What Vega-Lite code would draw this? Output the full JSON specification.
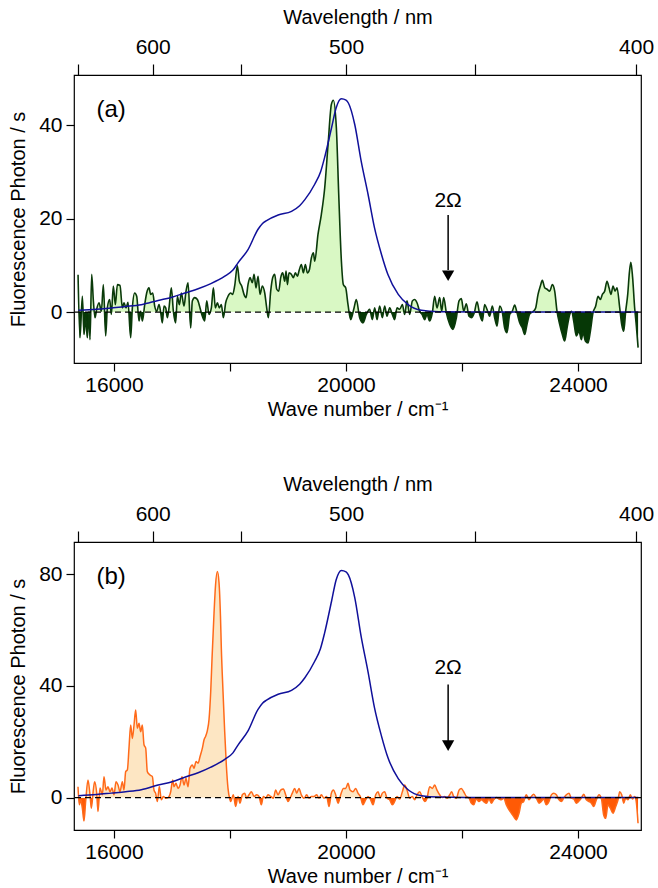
{
"$schema": "https://vega.github.io/schema/vega-lite/v6.json",
"padding": {"left": 8, "top": 6, "right": 2, "bottom": 4},
"spacing": 53,
"datasets": {
"blueA": [
{"wn":15385,"v":0.4},{"wn":15700,"v":0.6},{"wn":15950,"v":0.9},{"wn":16200,"v":1.2},{"wn":16470,"v":1.6},{"wn":16760,"v":2.5},{"wn":17000,"v":3.2},{"wn":17220,"v":4.1},{"wn":17450,"v":5.0},{"wn":17670,"v":6.1},{"wn":17910,"v":7.7},{"wn":18050,"v":9.0},{"wn":18140,"v":10.6},{"wn":18310,"v":13.4},{"wn":18480,"v":17.7},{"wn":18560,"v":19.0},{"wn":18630,"v":19.6},{"wn":18830,"v":20.8},{"wn":19060,"v":21.6},{"wn":19200,"v":22.8},{"wn":19290,"v":24.1},{"wn":19460,"v":27.4},{"wn":19560,"v":30.0},{"wn":19630,"v":33.1},{"wn":19750,"v":39.5},{"wn":19830,"v":43.8},{"wn":19920,"v":45.7},{"wn":20000,"v":45.4},{"wn":20040,"v":44.8},{"wn":20150,"v":40.2},{"wn":20260,"v":32.4},{"wn":20380,"v":25.2},{"wn":20490,"v":18.1},{"wn":20610,"v":12.4},{"wn":20720,"v":8.1},{"wn":20900,"v":3.8},{"wn":21070,"v":1.6},{"wn":21300,"v":0.4},{"wn":21600,"v":0.1},{"wn":22500,"v":0.0},{"wn":25040,"v":0.0}
],
"blueB": [
{"wn":15385,"v":0.7},{"wn":15700,"v":1.1},{"wn":15950,"v":1.6},{"wn":16200,"v":2.1},{"wn":16470,"v":2.8},{"wn":16760,"v":4.5},{"wn":17000,"v":5.7},{"wn":17220,"v":7.3},{"wn":17450,"v":8.9},{"wn":17670,"v":10.9},{"wn":17910,"v":13.7},{"wn":18050,"v":16.0},{"wn":18140,"v":18.9},{"wn":18310,"v":23.9},{"wn":18480,"v":31.5},{"wn":18560,"v":33.8},{"wn":18630,"v":34.9},{"wn":18830,"v":37.0},{"wn":19060,"v":38.4},{"wn":19200,"v":40.6},{"wn":19290,"v":42.9},{"wn":19460,"v":48.8},{"wn":19560,"v":53.4},{"wn":19630,"v":58.9},{"wn":19750,"v":70.3},{"wn":19830,"v":78.0},{"wn":19920,"v":81.3},{"wn":20000,"v":80.8},{"wn":20040,"v":79.7},{"wn":20150,"v":71.6},{"wn":20260,"v":57.7},{"wn":20380,"v":44.9},{"wn":20490,"v":32.2},{"wn":20610,"v":22.1},{"wn":20720,"v":14.4},{"wn":20900,"v":6.8},{"wn":21070,"v":2.8},{"wn":21300,"v":0.7},{"wn":21600,"v":0.2},{"wn":22500,"v":0.0},{"wn":25040,"v":0.0}
],
"greenA": [
{"wn":15380,"v":8.0},{"wn":15413,"v":-5.5},{"wn":15454,"v":3.4},{"wn":15483,"v":-4.8},{"wn":15511,"v":-1.2},{"wn":15540,"v":-5.5},{"wn":15569,"v":0.2},{"wn":15586,"v":-5.9},{"wn":15615,"v":8.1},{"wn":15644,"v":2.4},{"wn":15672,"v":-1.2},{"wn":15701,"v":0.6},{"wn":15741,"v":2.0},{"wn":15782,"v":0.2},{"wn":15816,"v":5.9},{"wn":15856,"v":-5.1},{"wn":15885,"v":0.9},{"wn":15925,"v":2.7},{"wn":15954,"v":-0.5},{"wn":15988,"v":5.6},{"wn":16023,"v":1.6},{"wn":16058,"v":5.9},{"wn":16103,"v":5.7},{"wn":16144,"v":0.9},{"wn":16172,"v":2.0},{"wn":16207,"v":0.9},{"wn":16241,"v":2.1},{"wn":16287,"v":-5.5},{"wn":16316,"v":0.9},{"wn":16356,"v":4.1},{"wn":16391,"v":3.4},{"wn":16431,"v":-1.9},{"wn":16460,"v":0.2},{"wn":16489,"v":-1.9},{"wn":16529,"v":1.6},{"wn":16563,"v":4.1},{"wn":16603,"v":5.2},{"wn":16632,"v":3.8},{"wn":16667,"v":4.1},{"wn":16701,"v":1.3},{"wn":16736,"v":0.2},{"wn":16776,"v":1.6},{"wn":16805,"v":-0.1},{"wn":16833,"v":-2.3},{"wn":16862,"v":1.3},{"wn":16891,"v":0.9},{"wn":16919,"v":-1.2},{"wn":16948,"v":0.9},{"wn":16988,"v":5.2},{"wn":17023,"v":0.2},{"wn":17063,"v":-2.3},{"wn":17092,"v":3.4},{"wn":17126,"v":1.6},{"wn":17161,"v":4.1},{"wn":17207,"v":1.3},{"wn":17241,"v":4.5},{"wn":17276,"v":6.3},{"wn":17322,"v":-3.4},{"wn":17350,"v":2.4},{"wn":17391,"v":3.1},{"wn":17437,"v":2.7},{"wn":17483,"v":0.9},{"wn":17523,"v":-0.9},{"wn":17563,"v":-1.9},{"wn":17598,"v":2.4},{"wn":17638,"v":-0.5},{"wn":17678,"v":0.9},{"wn":17713,"v":5.2},{"wn":17747,"v":0.9},{"wn":17782,"v":2.0},{"wn":17816,"v":0.9},{"wn":17850,"v":1.6},{"wn":17885,"v":-1.2},{"wn":17925,"v":2.0},{"wn":17965,"v":3.4},{"wn":18011,"v":4.1},{"wn":18046,"v":3.8},{"wn":18080,"v":5.6},{"wn":18126,"v":9.9},{"wn":18161,"v":6.6},{"wn":18201,"v":5.6},{"wn":18241,"v":3.8},{"wn":18276,"v":3.1},{"wn":18310,"v":5.9},{"wn":18345,"v":7.4},{"wn":18385,"v":6.3},{"wn":18414,"v":8.1},{"wn":18448,"v":5.2},{"wn":18483,"v":7.7},{"wn":18517,"v":3.8},{"wn":18557,"v":5.6},{"wn":18598,"v":4.1},{"wn":18632,"v":0.9},{"wn":18661,"v":-1.2},{"wn":18701,"v":4.5},{"wn":18736,"v":7.4},{"wn":18770,"v":8.1},{"wn":18805,"v":4.9},{"wn":18839,"v":4.5},{"wn":18874,"v":7.4},{"wn":18908,"v":8.4},{"wn":18943,"v":6.6},{"wn":18966,"v":8.8},{"wn":18989,"v":5.9},{"wn":19017,"v":8.4},{"wn":19057,"v":8.1},{"wn":19092,"v":7.4},{"wn":19126,"v":8.4},{"wn":19161,"v":7.7},{"wn":19195,"v":9.1},{"wn":19230,"v":10.2},{"wn":19264,"v":8.4},{"wn":19299,"v":10.2},{"wn":19333,"v":8.4},{"wn":19368,"v":9.1},{"wn":19402,"v":11.6},{"wn":19437,"v":12.7},{"wn":19460,"v":10.9},{"wn":19517,"v":16.7},{"wn":19574,"v":20.9},{"wn":19632,"v":26.6},{"wn":19690,"v":35.9},{"wn":19747,"v":44.5},{"wn":19781,"v":45.4},{"wn":19833,"v":39.5},{"wn":19874,"v":25.2},{"wn":19920,"v":10.9},{"wn":19953,"v":5.9},{"wn":19994,"v":5.2},{"wn":20034,"v":1.6},{"wn":20080,"v":-1.6},{"wn":20138,"v":0.9},{"wn":20177,"v":2.7},{"wn":20235,"v":-1.2},{"wn":20292,"v":-2.3},{"wn":20350,"v":-0.5},{"wn":20407,"v":0.6},{"wn":20453,"v":-1.6},{"wn":20494,"v":0.9},{"wn":20534,"v":-1.6},{"wn":20580,"v":1.3},{"wn":20626,"v":-1.2},{"wn":20666,"v":1.3},{"wn":20706,"v":-0.9},{"wn":20752,"v":0.9},{"wn":20798,"v":-0.5},{"wn":20838,"v":-1.6},{"wn":20879,"v":0.9},{"wn":20925,"v":0.6},{"wn":20971,"v":1.6},{"wn":21011,"v":-0.5},{"wn":21051,"v":2.4},{"wn":21097,"v":-0.5},{"wn":21143,"v":2.4},{"wn":21183,"v":2.7},{"wn":21223,"v":2.0},{"wn":21269,"v":0.2},{"wn":21310,"v":-0.5},{"wn":21356,"v":-1.6},{"wn":21396,"v":-0.5},{"wn":21442,"v":-1.9},{"wn":21488,"v":-0.1},{"wn":21528,"v":3.4},{"wn":21568,"v":0.9},{"wn":21614,"v":3.1},{"wn":21649,"v":0.2},{"wn":21683,"v":3.1},{"wn":21729,"v":-0.1},{"wn":21787,"v":-2.6},{"wn":21844,"v":-3.7},{"wn":21902,"v":-1.2},{"wn":21948,"v":2.4},{"wn":21988,"v":2.9},{"wn":22028,"v":0.2},{"wn":22074,"v":1.8},{"wn":22120,"v":-0.9},{"wn":22166,"v":-1.2},{"wn":22212,"v":-0.1},{"wn":22258,"v":2.2},{"wn":22304,"v":-0.5},{"wn":22350,"v":-1.9},{"wn":22390,"v":1.6},{"wn":22430,"v":0.6},{"wn":22476,"v":-0.9},{"wn":22522,"v":1.3},{"wn":22562,"v":-1.2},{"wn":22603,"v":-3.0},{"wn":22649,"v":1.3},{"wn":22695,"v":-0.1},{"wn":22735,"v":-3.4},{"wn":22775,"v":-4.4},{"wn":22821,"v":-0.5},{"wn":22867,"v":0.2},{"wn":22907,"v":1.5},{"wn":22947,"v":-0.1},{"wn":22994,"v":-2.3},{"wn":23040,"v":-3.4},{"wn":23080,"v":-4.8},{"wn":23120,"v":-2.6},{"wn":23166,"v":-0.4},{"wn":23223,"v":0.1},{"wn":23269,"v":0.9},{"wn":23310,"v":3.8},{"wn":23350,"v":5.6},{"wn":23384,"v":6.8},{"wn":23425,"v":5.2},{"wn":23465,"v":4.9},{"wn":23511,"v":4.5},{"wn":23557,"v":5.9},{"wn":23597,"v":4.5},{"wn":23637,"v":0.2},{"wn":23683,"v":-2.6},{"wn":23729,"v":-4.8},{"wn":23769,"v":-6.2},{"wn":23810,"v":-3.4},{"wn":23856,"v":-0.5},{"wn":23890,"v":0.2},{"wn":23925,"v":-1.9},{"wn":23970,"v":-5.1},{"wn":24016,"v":-4.1},{"wn":24057,"v":-5.9},{"wn":24085,"v":-4.4},{"wn":24126,"v":-6.2},{"wn":24172,"v":-6.6},{"wn":24212,"v":-4.1},{"wn":24258,"v":-0.1},{"wn":24304,"v":1.3},{"wn":24344,"v":3.4},{"wn":24384,"v":2.7},{"wn":24419,"v":3.8},{"wn":24459,"v":4.5},{"wn":24499,"v":6.6},{"wn":24534,"v":5.2},{"wn":24568,"v":3.8},{"wn":24603,"v":5.6},{"wn":24637,"v":4.5},{"wn":24672,"v":5.2},{"wn":24718,"v":0.9},{"wn":24752,"v":-2.6},{"wn":24787,"v":-4.1},{"wn":24821,"v":0.2},{"wn":24856,"v":3.8},{"wn":24885,"v":8.5},{"wn":24910,"v":10.7},{"wn":24940,"v":7.5},{"wn":24975,"v":1.0},{"wn":25005,"v":-3.0},{"wn":25035,"v":-7.6}
],
"orangeB": [
{"wn":15379,"v":3.9},{"wn":15402,"v":-2.6},{"wn":15425,"v":-0.8},{"wn":15454,"v":-3.8},{"wn":15482,"v":-8.4},{"wn":15511,"v":-1.4},{"wn":15551,"v":6.3},{"wn":15586,"v":1.0},{"wn":15609,"v":-3.8},{"wn":15643,"v":2.7},{"wn":15666,"v":5.7},{"wn":15701,"v":1.6},{"wn":15724,"v":-5.0},{"wn":15758,"v":3.4},{"wn":15799,"v":1.0},{"wn":15827,"v":7.5},{"wn":15862,"v":2.7},{"wn":15896,"v":3.9},{"wn":15931,"v":2.1},{"wn":15965,"v":3.4},{"wn":16000,"v":1.0},{"wn":16034,"v":5.7},{"wn":16069,"v":4.5},{"wn":16103,"v":2.1},{"wn":16143,"v":5.7},{"wn":16172,"v":2.7},{"wn":16201,"v":9.3},{"wn":16230,"v":9.9},{"wn":16258,"v":17.7},{"wn":16287,"v":26.0},{"wn":16316,"v":21.2},{"wn":16345,"v":26.0},{"wn":16373,"v":31.4},{"wn":16402,"v":24.8},{"wn":16431,"v":26.6},{"wn":16459,"v":23.6},{"wn":16488,"v":26.0},{"wn":16517,"v":18.9},{"wn":16546,"v":17.7},{"wn":16574,"v":9.3},{"wn":16620,"v":8.1},{"wn":16661,"v":7.5},{"wn":16689,"v":2.7},{"wn":16718,"v":1.5},{"wn":16747,"v":-1.4},{"wn":16781,"v":4.0},{"wn":16816,"v":-0.8},{"wn":16850,"v":0.4},{"wn":16890,"v":-0.2},{"wn":16931,"v":0.0},{"wn":16977,"v":2.1},{"wn":17011,"v":6.3},{"wn":17034,"v":3.9},{"wn":17069,"v":5.1},{"wn":17103,"v":3.3},{"wn":17138,"v":4.5},{"wn":17172,"v":7.5},{"wn":17207,"v":4.5},{"wn":17241,"v":6.9},{"wn":17276,"v":3.9},{"wn":17310,"v":10.5},{"wn":17350,"v":11.7},{"wn":17379,"v":10.5},{"wn":17414,"v":12.9},{"wn":17448,"v":12.3},{"wn":17482,"v":14.6},{"wn":17523,"v":17.7},{"wn":17551,"v":20.6},{"wn":17580,"v":22.0},{"wn":17609,"v":24.0},{"wn":17638,"v":28.0},{"wn":17667,"v":38.0},{"wn":17690,"v":50.0},{"wn":17724,"v":66.0},{"wn":17750,"v":76.0},{"wn":17781,"v":80.9},{"wn":17810,"v":77.0},{"wn":17835,"v":65.0},{"wn":17850,"v":53.5},{"wn":17879,"v":37.9},{"wn":17908,"v":23.6},{"wn":17936,"v":11.7},{"wn":17965,"v":3.3},{"wn":17995,"v":-0.5},{"wn":18011,"v":-1.4},{"wn":18057,"v":1.0},{"wn":18097,"v":-3.2},{"wn":18138,"v":0.4},{"wn":18172,"v":-2.0},{"wn":18212,"v":1.0},{"wn":18253,"v":1.6},{"wn":18287,"v":-0.2},{"wn":18327,"v":1.0},{"wn":18368,"v":2.1},{"wn":18414,"v":0.4},{"wn":18459,"v":1.0},{"wn":18500,"v":0.4},{"wn":18540,"v":-2.6},{"wn":18574,"v":0.4},{"wn":18614,"v":-0.2},{"wn":18655,"v":1.0},{"wn":18701,"v":0.4},{"wn":18747,"v":-0.2},{"wn":18787,"v":2.7},{"wn":18827,"v":1.0},{"wn":18873,"v":2.7},{"wn":18919,"v":3.1},{"wn":18959,"v":1.0},{"wn":18999,"v":-1.4},{"wn":19034,"v":-0.2},{"wn":19074,"v":1.6},{"wn":19115,"v":3.3},{"wn":19149,"v":1.6},{"wn":19189,"v":3.3},{"wn":19229,"v":1.0},{"wn":19276,"v":-0.2},{"wn":19321,"v":1.0},{"wn":19362,"v":-0.2},{"wn":19402,"v":0.4},{"wn":19448,"v":0.4},{"wn":19494,"v":1.0},{"wn":19534,"v":-0.2},{"wn":19574,"v":1.0},{"wn":19620,"v":-0.2},{"wn":19666,"v":0.4},{"wn":19707,"v":-3.2},{"wn":19747,"v":1.6},{"wn":19781,"v":2.7},{"wn":19821,"v":1.0},{"wn":19862,"v":-2.0},{"wn":19908,"v":1.0},{"wn":19954,"v":3.3},{"wn":19994,"v":3.3},{"wn":20034,"v":5.1},{"wn":20069,"v":2.7},{"wn":20120,"v":2.1},{"wn":20166,"v":3.3},{"wn":20206,"v":1.6},{"wn":20246,"v":0.4},{"wn":20292,"v":-2.6},{"wn":20338,"v":-0.8},{"wn":20379,"v":0.4},{"wn":20419,"v":-0.5},{"wn":20465,"v":-2.6},{"wn":20511,"v":1.0},{"wn":20551,"v":2.1},{"wn":20591,"v":0.0},{"wn":20626,"v":1.6},{"wn":20666,"v":2.1},{"wn":20706,"v":-0.2},{"wn":20752,"v":-0.8},{"wn":20798,"v":-2.6},{"wn":20838,"v":-1.4},{"wn":20879,"v":0.4},{"wn":20925,"v":-0.5},{"wn":20971,"v":2.1},{"wn":21011,"v":4.5},{"wn":21051,"v":2.7},{"wn":21097,"v":-0.2},{"wn":21143,"v":0.4},{"wn":21183,"v":-0.8},{"wn":21223,"v":1.0},{"wn":21269,"v":2.1},{"wn":21310,"v":0.4},{"wn":21356,"v":-1.4},{"wn":21396,"v":-0.2},{"wn":21442,"v":3.9},{"wn":21488,"v":3.3},{"wn":21528,"v":4.5},{"wn":21568,"v":2.7},{"wn":21614,"v":1.0},{"wn":21660,"v":0.0},{"wn":21700,"v":0.4},{"wn":21741,"v":-0.2},{"wn":21787,"v":1.0},{"wn":21821,"v":2.1},{"wn":21856,"v":0.4},{"wn":21902,"v":-0.2},{"wn":21948,"v":2.7},{"wn":21988,"v":3.3},{"wn":22028,"v":2.1},{"wn":22074,"v":0.4},{"wn":22120,"v":-0.2},{"wn":22160,"v":-2.0},{"wn":22200,"v":-2.6},{"wn":22246,"v":-0.5},{"wn":22292,"v":-1.4},{"wn":22333,"v":-0.8},{"wn":22373,"v":-1.4},{"wn":22419,"v":-2.0},{"wn":22465,"v":-0.5},{"wn":22505,"v":-2.0},{"wn":22545,"v":-0.8},{"wn":22591,"v":0.0},{"wn":22637,"v":-0.5},{"wn":22677,"v":-0.8},{"wn":22718,"v":-0.2},{"wn":22764,"v":-2.6},{"wn":22810,"v":-4.4},{"wn":22850,"v":-5.6},{"wn":22890,"v":-6.8},{"wn":22936,"v":-8.0},{"wn":22982,"v":-5.6},{"wn":23022,"v":-2.0},{"wn":23062,"v":-1.4},{"wn":23108,"v":1.0},{"wn":23154,"v":-0.8},{"wn":23195,"v":0.4},{"wn":23235,"v":1.2},{"wn":23281,"v":-0.2},{"wn":23327,"v":-2.0},{"wn":23367,"v":-1.4},{"wn":23407,"v":-0.5},{"wn":23453,"v":-2.6},{"wn":23499,"v":-1.4},{"wn":23540,"v":1.0},{"wn":23580,"v":1.6},{"wn":23626,"v":1.0},{"wn":23672,"v":-0.8},{"wn":23712,"v":-1.4},{"wn":23752,"v":-0.2},{"wn":23798,"v":1.0},{"wn":23844,"v":1.6},{"wn":23884,"v":-0.2},{"wn":23925,"v":-0.5},{"wn":23970,"v":-2.0},{"wn":24016,"v":-1.2},{"wn":24057,"v":-0.2},{"wn":24097,"v":1.2},{"wn":24143,"v":-0.8},{"wn":24189,"v":-1.4},{"wn":24229,"v":-2.0},{"wn":24269,"v":-3.2},{"wn":24315,"v":-0.8},{"wn":24361,"v":1.0},{"wn":24401,"v":-0.2},{"wn":24442,"v":-6.2},{"wn":24476,"v":-7.4},{"wn":24516,"v":-2.6},{"wn":24557,"v":-3.8},{"wn":24603,"v":-5.6},{"wn":24649,"v":-3.2},{"wn":24689,"v":-0.8},{"wn":24718,"v":2.1},{"wn":24752,"v":1.0},{"wn":24787,"v":-2.0},{"wn":24821,"v":-0.2},{"wn":24861,"v":-0.8},{"wn":24902,"v":1.0},{"wn":24936,"v":-0.5},{"wn":24976,"v":0.4},{"wn":25000,"v":-1.0},{"wn":25034,"v":-9.2}
]
},
"vconcat": [
{
"width": 567, "height": 288,
"resolve": {"axis": {"x": "independent", "y": "independent"}},
"layer": [
{"data": {"name": "greenA"},
 "mark": {"type": "area", "interpolate": "monotone", "fill": {"gradient": "linear", "x1": 0, "y1": 0, "x2": 0, "y2": 1, "stops": [{"offset": 0, "color": "#d9f8c4"}, {"offset": 0.8566, "color": "#d9f8c4"}, {"offset": 0.8566, "color": "#063806"}, {"offset": 1, "color": "#063806"}]}},
 "encoding": {
  "x": {"field": "wn", "type": "quantitative", "scale": {"domain": [15310, 25085], "nice": false, "zero": false},
        "axis": {"orient": "bottom", "title": "Wave number / cm⁻¹", "values": [16000, 18000, 20000, 22000, 24000], "labelExpr": "datum.value % 4000 == 0 ? format(datum.value, 'd') : ''"}},
  "y": {"field": "v", "type": "quantitative", "scale": {"domain": [-10.9, 50.8], "nice": false, "zero": false},
        "axis": {"title": "Fluorescence Photon / s", "values": [0, 20, 40]}},
  "y2": {"datum": 0}
 }},
{"data": {"name": "greenA"},
 "mark": {"type": "line", "interpolate": "monotone", "color": "#0a3a0a", "strokeWidth": 1.6},
 "encoding": {
  "x": {"field": "wn", "type": "quantitative",
        "axis": {"orient": "top", "title": "Wavelength / nm", "values": [15384.6, 16666.7, 18181.8, 20000, 22222.2, 25000], "labelExpr": "round(1e7 / datum.value) % 100 == 0 ? format(round(1e7 / datum.value), 'd') : ''"}},
  "y": {"field": "v", "type": "quantitative", "axis": null}
 }},
{"data": {"name": "blueA"},
 "mark": {"type": "line", "interpolate": "monotone", "color": "#10109a", "strokeWidth": 1.5},
 "encoding": {
  "x": {"field": "wn", "type": "quantitative", "axis": null},
  "y": {"field": "v", "type": "quantitative", "axis": null}
 }},
{"data": {"values": [{}]},
 "mark": {"type": "rule", "color": "black", "strokeDash": [6, 4], "strokeWidth": 1.2},
 "encoding": {"y": {"datum": 0, "type": "quantitative", "axis": null}}},
{"data": {"values": [{}]},
 "mark": {"type": "text", "text": "(a)", "font": "Liberation Sans", "fontSize": 24, "align": "center", "baseline": "middle"},
 "encoding": {"x": {"datum": 15950, "type": "quantitative", "axis": null}, "y": {"datum": 43.4, "type": "quantitative", "axis": null}}},
{"data": {"values": [{}]},
 "mark": {"type": "text", "text": "2Ω", "font": "Liberation Sans", "fontSize": 21, "align": "center", "baseline": "middle"},
 "encoding": {"x": {"datum": 21760, "type": "quantitative", "axis": null}, "y": {"datum": 23.8, "type": "quantitative", "axis": null}}},
{"data": {"values": [{}]},
 "mark": {"type": "rule", "color": "black", "strokeWidth": 1.5},
 "encoding": {"x": {"datum": 21760, "type": "quantitative", "axis": null}, "y": {"datum": 20.8, "type": "quantitative", "axis": null}, "y2": {"datum": 9.0}}},
{"data": {"values": [{}]},
 "mark": {"type": "point", "shape": "triangle-down", "filled": true, "color": "black", "size": 150, "opacity": 1},
 "encoding": {"x": {"datum": 21760, "type": "quantitative", "axis": null}, "y": {"datum": 7.8, "type": "quantitative", "axis": null}}}
]
},
{
"width": 567, "height": 288,
"resolve": {"axis": {"x": "independent", "y": "independent"}},
"layer": [
{"data": {"name": "orangeB"},
 "mark": {"type": "area", "interpolate": "monotone", "fill": {"gradient": "linear", "x1": 0, "y1": 0, "x2": 0, "y2": 1, "stops": [{"offset": 0, "color": "#fde6c3"}, {"offset": 0.8979, "color": "#fde6c3"}, {"offset": 0.8979, "color": "#ff5a05"}, {"offset": 1, "color": "#ff5a05"}]}},
 "encoding": {
  "x": {"field": "wn", "type": "quantitative", "scale": {"domain": [15310, 25085], "nice": false, "zero": false},
        "axis": {"orient": "bottom", "title": "Wave number / cm⁻¹", "values": [16000, 18000, 20000, 22000, 24000], "labelExpr": "datum.value % 4000 == 0 ? format(datum.value, 'd') : ''"}},
  "y": {"field": "v", "type": "quantitative", "scale": {"domain": [-11.6, 91.5], "nice": false, "zero": false},
        "axis": {"title": "Fluorescence Photon / s", "values": [0, 40, 80]}},
  "y2": {"datum": 0}
 }},
{"data": {"name": "orangeB"},
 "mark": {"type": "line", "interpolate": "monotone", "color": "#ff6a1a", "strokeWidth": 1.5},
 "encoding": {
  "x": {"field": "wn", "type": "quantitative",
        "axis": {"orient": "top", "title": "Wavelength / nm", "values": [15384.6, 16666.7, 18181.8, 20000, 22222.2, 25000], "labelExpr": "round(1e7 / datum.value) % 100 == 0 ? format(round(1e7 / datum.value), 'd') : ''"}},
  "y": {"field": "v", "type": "quantitative", "axis": null}
 }},
{"data": {"name": "blueB"},
 "mark": {"type": "line", "interpolate": "monotone", "color": "#10109a", "strokeWidth": 1.5},
 "encoding": {
  "x": {"field": "wn", "type": "quantitative", "axis": null},
  "y": {"field": "v", "type": "quantitative", "axis": null}
 }},
{"data": {"values": [{}]},
 "mark": {"type": "rule", "color": "black", "strokeDash": [6, 4], "strokeWidth": 1.2},
 "encoding": {"y": {"datum": 0, "type": "quantitative", "axis": null}}},
{"data": {"values": [{}]},
 "mark": {"type": "text", "text": "(b)", "font": "Liberation Sans", "fontSize": 24, "align": "center", "baseline": "middle"},
 "encoding": {"x": {"datum": 15950, "type": "quantitative", "axis": null}, "y": {"datum": 79.1, "type": "quantitative", "axis": null}}},
{"data": {"values": [{}]},
 "mark": {"type": "text", "text": "2Ω", "font": "Liberation Sans", "fontSize": 21, "align": "center", "baseline": "middle"},
 "encoding": {"x": {"datum": 21760, "type": "quantitative", "axis": null}, "y": {"datum": 46.3, "type": "quantitative", "axis": null}}},
{"data": {"values": [{}]},
 "mark": {"type": "rule", "color": "black", "strokeWidth": 1.5},
 "encoding": {"x": {"datum": 21760, "type": "quantitative", "axis": null}, "y": {"datum": 40.5, "type": "quantitative", "axis": null}, "y2": {"datum": 20.0}}},
{"data": {"values": [{}]},
 "mark": {"type": "point", "shape": "triangle-down", "filled": true, "color": "black", "size": 150, "opacity": 1},
 "encoding": {"x": {"datum": 21760, "type": "quantitative", "axis": null}, "y": {"datum": 18.6, "type": "quantitative", "axis": null}}}
]
}
],
"config": {
 "view": {"stroke": "black", "strokeWidth": 1.2},
 "font": "Liberation Sans",
 "axis": {"domain": false, "grid": false, "tickColor": "black", "tickWidth": 1.2, "tickSize": 9, "labelColor": "black", "titleColor": "black", "labelFont": "Liberation Sans", "titleFont": "Liberation Sans", "labelFontSize": 21, "titleFontSize": 20, "titleFontWeight": "normal", "labelPadding": 4, "titlePadding": 6, "labelOverlap": false},
 "axisTop": {"tickSize": 11, "labelPadding": 7, "titlePadding": 9},
 "axisBottom": {"tickSize": 8, "labelPadding": 3, "titlePadding": 4},
 "axisLeft": {"tickSize": 8, "labelPadding": 4, "titlePadding": 10}
}
}
